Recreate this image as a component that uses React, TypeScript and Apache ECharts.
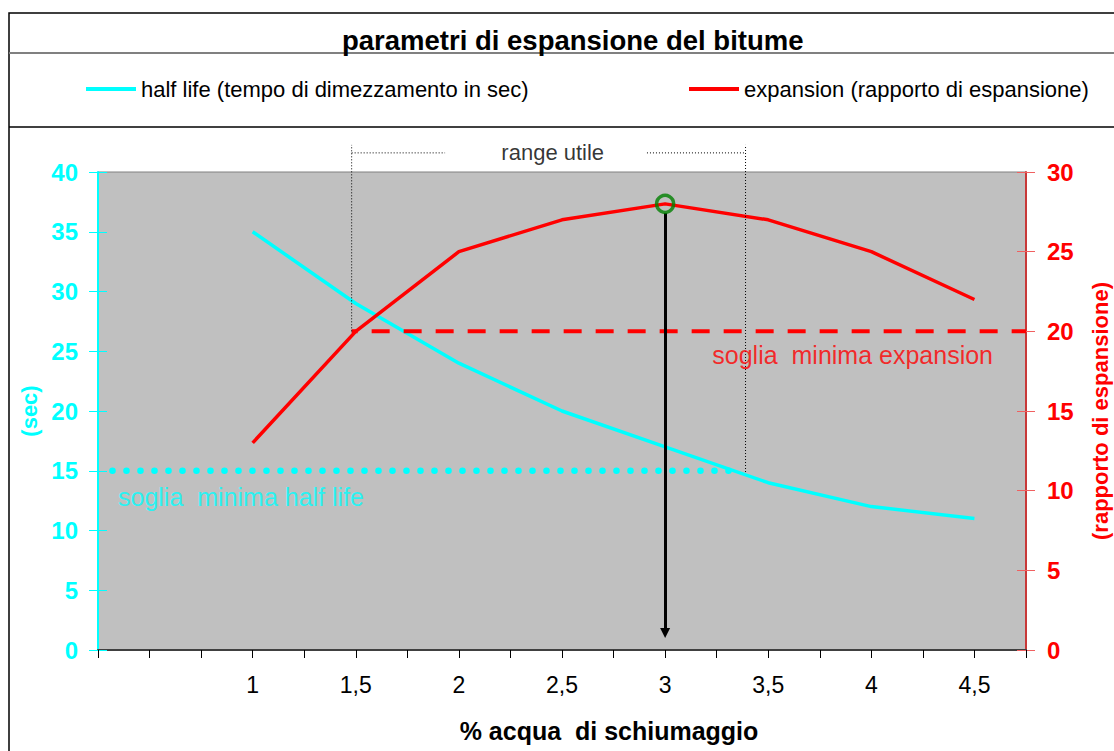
import React, { useEffect, useRef } from "react";
import * as echarts from "echarts";

// ---- data ----
const xValues = [1, 1.5, 2, 2.5, 3, 3.5, 4, 4.5];
const xTickLabels = ["1", "1,5", "2", "2,5", "3", "3,5", "4", "4,5"];
const halfLife = [35, 29, 24, 20, 17, 14, 12, 11];
const expansion = [13, 20, 25, 27, 28, 27, 25, 22];
const halfLifeThreshold = 15;
const expansionThreshold = 20;
const halfLifeThresholdSpan = [0.32, 3.35];
const expansionThresholdSpan = [1.48, 4.75];
const usefulRange = [1.48, 3.39];
const peakPoint = [3, 28];

const FONT = "Liberation Sans, Arial, Helvetica, sans-serif";
const CYAN = "#00FFFF";
const RED = "#FF0000";

const NAME_HL = "half life (tempo di dimezzamento in sec)";
const NAME_EXP = "expansion (rapporto di espansione)";

export default function App() {
  const ref = useRef<HTMLDivElement>(null);

  useEffect(() => {
    if (!ref.current) return;
    const chart = echarts.init(ref.current, undefined, { renderer: "svg" });

    const hlData = xValues.map((x, i) => [x, halfLife[i]]);
    const expData = xValues.map((x, i) => [x, expansion[i]]);

    const dotted = { color: "#000", width: 1, type: [1, 2] as number[] };

    const innerTickAxis = (pos: string, max: number, color: string) => ({
      type: "value",
      min: 0,
      max,
      interval: 5,
      position: pos,
      axisLine: { show: false },
      axisTick: { show: true, inside: true, length: 9, lineStyle: { color, width: 1 } },
      axisLabel: { show: false },
      splitLine: { show: false },
    });

    const option: any = {
      animation: false,
      backgroundColor: "#fff",
      title: {
        text: "parametri di espansione del bitume",
        left: 337,
        top: 21,
        textStyle: { fontFamily: FONT, fontSize: 27.5, fontWeight: "bold", color: "#000" },
      },
      legend: [
        {
          data: [{ name: NAME_HL, icon: "rect" }],
          left: 86,
          top: 78,
          padding: 0,
          itemWidth: 50,
          itemHeight: 4,
          textStyle: { fontFamily: FONT, fontSize: 22, color: "#000" },
          selectedMode: false,
        },
        {
          data: [{ name: NAME_EXP, icon: "rect" }],
          left: 689,
          top: 78,
          padding: 0,
          itemWidth: 50,
          itemHeight: 4,
          textStyle: { fontFamily: FONT, fontSize: 22, color: "#000" },
          selectedMode: false,
        },
      ],
      grid: {
        left: 98,
        right: 88,
        top: 172,
        bottom: 101,
        show: true,
        backgroundColor: "#C0C0C0",
        borderColor: "#808080",
        borderWidth: 1,
        outerBoundsMode: "none",
      },
      xAxis: {
        type: "value",
        min: 0.25,
        max: 4.75,
        interval: 0.25,
        name: "% acqua  di schiumaggio",
        nameLocation: "middle",
        nameGap: 68,
        nameTextStyle: {
          fontFamily: FONT,
          fontSize: 25,
          fontWeight: "bold",
          color: "#000",
          padding: [0, 0, 0, 94],
        },
        axisLine: { show: true, lineStyle: { color: "#404040", width: 2 } },
        axisTick: { show: true, length: 8, lineStyle: { color: "#000", width: 1 } },
        axisLabel: {
          margin: 23,
          fontFamily: FONT,
          fontSize: 23,
          color: "#000",
          formatter: (v: number) => {
            const i = xValues.findIndex((x) => Math.abs(x - v) < 1e-6);
            return i >= 0 ? xTickLabels[i] : "";
          },
        },
        splitLine: { show: false },
      },
      yAxis: [
        {
          type: "value",
          min: 0,
          max: 40,
          interval: 5,
          position: "left",
          name: "(sec)",
          nameLocation: "middle",
          nameRotate: 90,
          nameGap: 57,
          nameTextStyle: { fontFamily: FONT, fontSize: 22, fontWeight: "bold", color: CYAN },
          axisLine: { show: true, lineStyle: { color: CYAN, width: 2 } },
          axisTick: { show: true, length: 9, lineStyle: { color: CYAN, width: 1 } },
          axisLabel: { margin: 20, fontFamily: FONT, fontSize: 24, fontWeight: "bold", color: CYAN },
          splitLine: { show: false },
        },
        {
          type: "value",
          min: 0,
          max: 30,
          interval: 5,
          position: "right",
          name: "(rapporto di espansione)",
          nameLocation: "middle",
          nameRotate: 90,
          nameGap: 63,
          nameTextStyle: { fontFamily: FONT, fontSize: 22, fontWeight: "bold", color: RED },
          axisLine: { show: true, lineStyle: { color: "#C83838", width: 2 } },
          axisTick: { show: true, length: 9, lineStyle: { color: "#F06060", width: 1 } },
          axisLabel: { margin: 21, fontFamily: FONT, fontSize: 24, fontWeight: "bold", color: RED },
          splitLine: { show: false },
        },
        innerTickAxis("left", 40, CYAN),
        innerTickAxis("right", 30, "#F06060"),
      ],
      series: [
        {
          name: "soglia minima half life",
          type: "line",
          yAxisIndex: 0,
          data: halfLifeThresholdSpan.map((x) => [x, halfLifeThreshold]),
          showSymbol: false,
          symbol: "none",
          silent: true,
          lineStyle: { color: CYAN, width: 6.5, type: [0.1, 13.9], cap: "round" },
          z: 3,
        },
        {
          name: NAME_HL,
          type: "line",
          yAxisIndex: 0,
          data: hlData,
          showSymbol: false,
          symbol: "none",
          color: CYAN,
          lineStyle: { color: CYAN, width: 3.5 },
          z: 4,
        },
        {
          name: NAME_EXP,
          type: "line",
          yAxisIndex: 1,
          data: expData,
          showSymbol: false,
          symbol: "none",
          color: RED,
          lineStyle: { color: RED, width: 3.5 },
          z: 5,
        },
        {
          name: "soglia minima expansion",
          type: "line",
          yAxisIndex: 1,
          data: expansionThresholdSpan.map((x) => [x, expansionThreshold]),
          showSymbol: false,
          symbol: "none",
          silent: true,
          lineStyle: { color: RED, width: 4, type: [18, 14], dashOffset: 12 },
          z: 6,
        },
        // range utile markers (dotted)
        {
          type: "line",
          yAxisIndex: 1,
          clip: false,
          silent: true,
          symbol: "none",
          data: [[usefulRange[0], expansionThreshold], [usefulRange[0], 31.7]],
          lineStyle: dotted,
          z: 7,
        },
        {
          type: "line",
          yAxisIndex: 1,
          clip: false,
          silent: true,
          symbol: "none",
          data: [[usefulRange[1], 11.17], [usefulRange[1], 31.7]],
          lineStyle: dotted,
          z: 7,
        },
        {
          type: "line",
          yAxisIndex: 1,
          clip: false,
          silent: true,
          symbol: "none",
          data: [[usefulRange[0], 31.2], [1.933, 31.2]],
          lineStyle: dotted,
          z: 7,
        },
        {
          type: "line",
          yAxisIndex: 1,
          clip: false,
          silent: true,
          symbol: "none",
          data: [[2.912, 31.2], [usefulRange[1], 31.2]],
          lineStyle: dotted,
          z: 7,
        },
        // text annotations
        {
          type: "scatter",
          yAxisIndex: 1,
          clip: false,
          silent: true,
          symbolSize: 0,
          data: [
            {
              value: [(usefulRange[0] + usefulRange[1]) / 2 + 0.02, 31.2],
              label: {
                show: true,
                position: "inside",
                align: "center",
                verticalAlign: "middle",
                formatter: "range utile",
                fontFamily: FONT,
                fontSize: 22,
                color: "#000",
              },
            },
            {
              value: [4.59, 18.5],
              label: {
                show: true,
                position: "inside",
                align: "right",
                verticalAlign: "middle",
                formatter: "soglia  minima expansion",
                fontFamily: FONT,
                fontSize: 25,
                color: RED,
              },
            },
          ],
          z: 8,
        },
        {
          type: "scatter",
          yAxisIndex: 0,
          clip: false,
          silent: true,
          symbolSize: 0,
          data: [
            {
              value: [0.347, 12.8],
              label: {
                show: true,
                position: "inside",
                align: "left",
                verticalAlign: "middle",
                formatter: "soglia  minima half life",
                fontFamily: FONT,
                fontSize: 25,
                color: CYAN,
              },
            },
          ],
          z: 8,
        },
        // arrow from peak down to the x axis
        {
          type: "lines",
          coordinateSystem: "cartesian2d",
          yAxisIndex: 1,
          silent: true,
          symbol: ["none", "triangle"],
          symbolSize: 10,
          lineStyle: { color: "#000", width: 3, opacity: 1 },
          data: [{ coords: [[peakPoint[0], 27.43], [peakPoint[0], 1.07]] }],
          z: 9,
        },
        {
          type: "scatter",
          yAxisIndex: 1,
          silent: true,
          symbol: "circle",
          symbolSize: 17,
          itemStyle: { color: "rgba(0,0,0,0)", borderColor: "#008000", borderWidth: 3.5 },
          data: [peakPoint],
          z: 10,
        },
      ],
      graphic: [
        {
          type: "rect",
          shape: { x: 9, y: 13, width: 1200, height: 800 },
          style: { fill: "none", stroke: "#000", lineWidth: 1.5 },
          silent: true,
          z: -10,
        },
        {
          type: "line",
          shape: { x1: 9, y1: 53, x2: 1114, y2: 53 },
          style: { stroke: "#808080", lineWidth: 2 },
          silent: true,
        },
        {
          type: "line",
          shape: { x1: 9, y1: 127, x2: 1114, y2: 127 },
          style: { stroke: "#000", lineWidth: 1.5 },
          silent: true,
        },
      ],
    };

    chart.setOption(option);
    return () => chart.dispose();
  }, []);

  return (
    <div
      ref={ref}
      style={{ position: "fixed", left: 0, top: 0, width: 1114, height: 751, background: "#fff" }}
    />
  );
}
